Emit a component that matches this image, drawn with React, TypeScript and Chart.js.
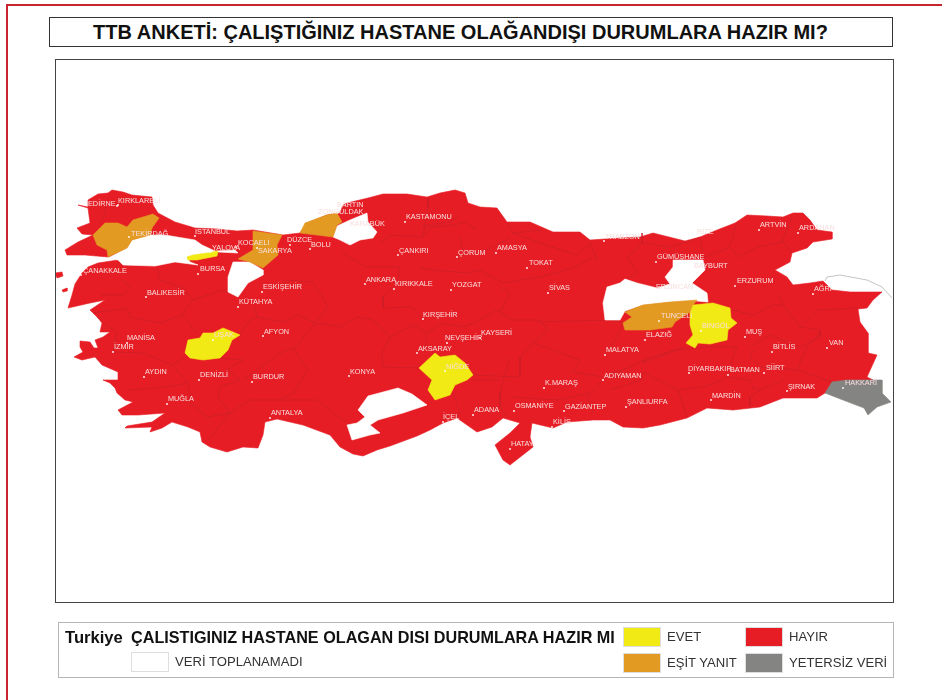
import React, { useEffect, useRef } from "react";
import { Chart, registerables } from "chart.js";

Chart.register(...registerables);

const titleText = "TTB ANKETİ: ÇALIŞTIĞINIZ HASTANE OLAĞANDIŞI DURUMLARA HAZIR MI?";
const legendCountry = "Turkiye";
const legendTitle = "ÇALISTIGINIZ HASTANE OLAGAN DISI DURUMLARA HAZIR MI";

const YES = "#f2ea14";
const TIE = "#e39a22";
const NO = "#e71d25";
const LOW = "#848482";
const NONE = "#ffffff";
const BORDER = "#c91f28";

type P = [number, number];

const mainland: P[] = [
  [78, 205], [88, 207], [88, 200], [98, 194], [108, 193], [112, 190], [123, 192], [132, 195], [152, 197], [153, 205],
  [158, 213], [175, 222], [195, 228], [217, 229], [237, 231], [253, 230], [283, 235], [300, 233], [307, 223], [327, 215], [340, 213], [343, 205],
  [347, 203], [368, 198], [383, 194], [407, 194], [427, 197], [440, 193], [455, 190], [465, 193], [468, 203], [480, 207],
  [497, 208], [507, 222], [530, 222], [553, 232], [580, 232], [590, 240], [620, 238], [640, 237], [653, 233], [685, 241],
  [700, 237], [717, 230], [735, 223], [747, 215], [767, 216], [783, 217], [793, 213], [803, 213], [810, 220], [817, 230],
  [832, 232], [832, 239], [813, 242], [807, 248], [792, 253], [790, 262], [775, 270], [787, 277], [793, 285], [810, 283],
  [823, 281], [832, 290], [850, 292], [882, 292], [873, 300], [867, 308], [858, 309], [860, 322], [868, 333], [868, 353],
  [877, 355], [867, 377], [873, 380], [840, 390], [825, 393], [817, 398], [783, 398], [760, 407], [733, 410], [707, 408],
  [687, 418], [660, 425], [643, 428], [623, 427], [610, 420], [593, 420], [567, 422], [553, 428], [532, 423], [530, 437],
  [533, 447], [510, 465], [503, 460], [495, 445], [510, 433], [520, 423], [503, 418], [492, 427], [477, 432], [457, 418],
  [443, 423], [430, 430], [417, 436], [390, 446], [377, 450], [363, 456], [353, 454], [340, 447], [330, 435], [303, 425], [277, 419], [265, 422],
  [263, 435], [258, 448], [243, 447], [227, 452], [210, 447], [202, 442], [200, 432], [188, 427], [172, 422], [162, 428], [150, 432],
  [152, 427], [125, 428], [127, 426], [152, 422], [165, 413], [138, 415], [122, 415], [118, 410], [133, 402], [125, 400],
  [117, 393], [115, 388], [110, 383], [103, 380], [118, 380], [118, 372], [102, 365], [95, 357], [82, 360], [74, 357],
  [83, 352], [80, 347], [80, 341], [90, 342], [94, 348], [98, 348], [113, 350], [98, 348], [95, 340], [103, 337], [110, 332], [100, 332],
  [102, 323], [98, 318], [90, 310], [105, 300], [90, 303], [68, 308], [72, 295], [75, 284], [82, 273], [88, 267], [98, 263],
  [118, 260], [108, 257], [85, 255], [67, 255], [65, 250], [78, 242], [93, 235], [82, 234], [77, 228], [90, 223], [88, 208],
];
const islandGokceada: P[] = [[55, 273], [62, 272], [63, 276], [57, 278]];
const islandBozcaada: P[] = [[62, 290], [67, 288], [67, 291], [63, 292]];
const islandMarmara: P[] = [[132, 254], [140, 253], [140, 257], [133, 257]];
const islandAvsa: P[] = [[129, 259], [134, 259], [134, 262], [129, 262]];
const islandPasha: P[] = [[140, 260], [152, 262], [155, 265], [145, 266], [140, 263]];

const marmara: P[] = [
  [108, 258], [127, 248], [132, 240], [150, 235], [165, 235], [195, 240], [202, 245], [215, 251], [235, 250], [238, 253],
  [218, 252], [187, 257], [190, 262], [198, 265], [175, 262], [155, 266], [123, 265], [118, 260],
];
const bilecik: P[] = [[233, 262], [250, 262], [263, 270], [263, 275], [248, 283], [238, 297], [228, 292], [228, 277]];
const karabuk: P[] = [[337, 226], [350, 220], [367, 213], [368, 222], [377, 232], [373, 238], [360, 240], [350, 245], [340, 240], [333, 237]];
const karaman: P[] = [
  [347, 425], [352, 440], [370, 435], [380, 433], [370, 425], [378, 420], [403, 413], [427, 405], [412, 394], [398, 388],
  [383, 392], [368, 396], [358, 410], [365, 417], [357, 423],
];
const erzincan: P[] = [
  [605, 320], [603, 303], [607, 287], [620, 283], [625, 279], [637, 283], [657, 288], [670, 284], [665, 277], [673, 267],
  [673, 260], [703, 260], [705, 270], [692, 283], [707, 293], [708, 302], [697, 301], [670, 302], [643, 305], [625, 311], [620, 320],
];

const uşak: P[] = [
  [185, 353], [188, 340], [200, 338], [203, 333], [213, 333], [223, 328], [233, 332], [240, 335], [232, 340], [228, 350],
  [220, 358], [203, 360], [190, 358],
];
const niğde: P[] = [
  [419, 368], [435, 353], [440, 357], [455, 355], [465, 363], [473, 375], [467, 380], [455, 385], [450, 395], [435, 400],
  [428, 390], [432, 380],
];
const bingöl: P[] = [
  [693, 305], [713, 303], [730, 308], [731, 318], [737, 323], [728, 330], [727, 340], [710, 344], [698, 343], [695, 348],
  [686, 343], [693, 335], [690, 325], [690, 313],
];
const yalova: P[] = [[187, 257], [193, 255], [207, 253], [218, 251], [217, 256], [197, 260], [188, 260]];
const tekirdağ: P[] = [
  [93, 235], [105, 223], [118, 223], [127, 227], [133, 220], [153, 214], [159, 218], [152, 228], [150, 235], [132, 240],
  [127, 248], [108, 257], [107, 250], [97, 245],
];
const sakarya: P[] = [[253, 231], [282, 235], [277, 245], [278, 255], [263, 268], [250, 262], [238, 259], [253, 250]];
const zonguldak: P[] = [[300, 233], [305, 223], [327, 215], [337, 213], [342, 222], [337, 225], [333, 237], [317, 235]];
const tunceli: P[] = [
  [625, 312], [643, 305], [670, 302], [697, 300], [693, 305], [690, 312], [675, 322], [672, 327], [650, 330], [625, 330],
  [623, 323], [632, 317],
];
const hakkari: P[] = [
  [832, 382], [847, 380], [882, 380], [882, 393], [891, 402], [877, 407], [868, 415], [864, 408], [843, 400], [825, 393],
];
const karsLine: P[] = [[825, 281], [827, 277], [840, 275], [867, 280], [882, 287], [892, 298]];

const provinceBorders: P[][] = [
  [[108, 197], [105, 213], [100, 223]],
  [[123, 280], [130, 287], [123, 295], [100, 295]],
  [[157, 268], [160, 280], [183, 288], [193, 300]],
  [[93, 313], [127, 308], [130, 317], [160, 323], [182, 315]],
  [[182, 315], [193, 300], [223, 290], [240, 297]],
  [[182, 315], [197, 333]],
  [[240, 335], [250, 320], [257, 317], [283, 322], [298, 315]],
  [[255, 307], [257, 317]],
  [[283, 280], [313, 282], [328, 307], [315, 323], [298, 315]],
  [[113, 352], [117, 333], [97, 317]],
  [[113, 352], [143, 353], [172, 365], [185, 357]],
  [[172, 365], [183, 377], [188, 383], [167, 387], [127, 390]],
  [[220, 358], [243, 360], [227, 370], [240, 380], [220, 387], [218, 397], [230, 413], [208, 440]],
  [[188, 383], [190, 403], [207, 417], [230, 413]],
  [[243, 380], [280, 353], [293, 348], [308, 370], [293, 393], [280, 400], [250, 400], [230, 413]],
  [[293, 350], [314, 325], [320, 323], [340, 327], [357, 317], [373, 320], [390, 337]],
  [[280, 400], [317, 400], [347, 423]],
  [[390, 337], [382, 353], [383, 367], [420, 368]],
  [[390, 337], [413, 325], [427, 333], [443, 323]],
  [[427, 333], [425, 347], [435, 353]],
  [[443, 323], [463, 327], [473, 323]],
  [[473, 323], [497, 310], [513, 320], [540, 320], [548, 330], [533, 343], [520, 357], [520, 377], [473, 375]],
  [[340, 252], [367, 267], [383, 267], [400, 267], [398, 283], [383, 297], [383, 308], [413, 307], [423, 320]],
  [[380, 243], [390, 235], [423, 237], [425, 225], [450, 222], [460, 215]],
  [[428, 198], [428, 207], [423, 230]],
  [[423, 237], [430, 227], [455, 225], [465, 222], [477, 230]],
  [[420, 268], [433, 270], [467, 273], [480, 270]],
  [[460, 237], [463, 252], [480, 253], [510, 238]],
  [[480, 270], [503, 283], [540, 277], [573, 268], [593, 258]],
  [[507, 223], [513, 233], [543, 230]],
  [[513, 233], [540, 243], [577, 255], [590, 243], [597, 260]],
  [[500, 313], [510, 293], [500, 287]],
  [[537, 322], [607, 320]],
  [[533, 343], [580, 360], [573, 372], [603, 377], [620, 377]],
  [[510, 357], [500, 393], [500, 407], [507, 417]],
  [[513, 397], [557, 400], [590, 393], [603, 380]],
  [[453, 393], [460, 413], [457, 418]],
  [[473, 380], [500, 380]],
  [[593, 413], [587, 393]],
  [[642, 233], [642, 243], [627, 258], [638, 272], [625, 280]],
  [[642, 243], [670, 247], [693, 240], [700, 237], [703, 253]],
  [[703, 258], [730, 247], [738, 257], [757, 247], [783, 242], [792, 253]],
  [[737, 223], [730, 245]],
  [[792, 217], [782, 242]],
  [[778, 293], [783, 305], [773, 305], [753, 315], [732, 310]],
  [[783, 305], [800, 327], [820, 330], [820, 337], [800, 347], [770, 335], [750, 347]],
  [[800, 327], [817, 310], [858, 308]],
  [[820, 333], [807, 347], [797, 370], [832, 382]],
  [[642, 363], [677, 350], [707, 347], [737, 347], [732, 360], [730, 373], [723, 380], [703, 387], [678, 390]],
  [[642, 363], [645, 360], [623, 370], [610, 373]],
  [[753, 350], [750, 357], [760, 367], [797, 370]],
  [[727, 377], [750, 380], [753, 388], [760, 390], [750, 397], [750, 407]],
  [[760, 390], [783, 380]],
  [[678, 390], [687, 417]],
  [[610, 390], [642, 380], [643, 372], [678, 390]],
  [[685, 347], [643, 360]],
  [[610, 320], [623, 323], [617, 337], [610, 347]],
];

const redRegions: P[][] = [mainland, islandGokceada, islandBozcaada, islandMarmara, islandAvsa, islandPasha];
const whiteRegions: P[][] = [marmara, bilecik, karabuk, karaman, erzincan];
const yellowRegions: P[][] = [uşak, niğde, bingöl, yalova];
const orangeRegions: P[][] = [tekirdağ, sakarya, zonguldak, tunceli];
const greyRegions: P[][] = [hakkari];

const cityNames = [
  "EDİRNE", "KIRKLARELİ", "TEKİRDAĞ", "İSTANBUL", "YALOVA", "KOCAELİ", "SAKARYA", "DÜZCE", "BOLU", "ZONGULDAK", "BARTIN",
  "KARABÜK", "KASTAMONU", "ÇANKIRI", "ÇORUM", "AMASYA", "TOKAT", "SİVAS", "ANKARA", "KIRIKKALE", "YOZGAT", "KIRŞEHİR",
  "NEVŞEHİR", "KAYSERİ", "AKSARAY", "NİĞDE", "KONYA", "K.MARAŞ", "MALATYA", "ADIYAMAN", "OSMANİYE", "GAZİANTEP", "KİLİS",
  "ADANA", "İÇEL", "HATAY", "ÇANAKKALE", "BURSA", "BALIKESİR", "ESKİŞEHİR", "KÜTAHYA", "AFYON", "UŞAK", "MANİSA", "İZMİR",
  "AYDIN", "DENİZLİ", "BURDUR", "MUĞLA", "ANTALYA", "ARTVİN", "ARDAHAN", "GÜMÜŞHANE", "BAYBURT", "ERZURUM", "AĞRI",
  "TUNCELİ", "BİNGÖL", "ELAZIĞ", "MUŞ", "BİTLİS", "VAN", "SİİRT", "BATMAN", "DİYARBAKIR", "ŞIRNAK", "HAKKARİ", "MARDİN",
  "ŞANLIURFA", "TRABZON", "RİZE", "ERZİNCAN",
];
const cityLabelX = [
  88, 118, 131, 195, 212, 238, 258, 287, 311, 318, 337, 350, 406, 399, 458, 497, 529, 549, 366, 395, 452, 423, 445, 481,
  418, 446, 350, 545, 606, 604, 515, 565, 553, 474, 443, 511, 83, 200, 147, 263, 239, 264, 214, 127, 114, 145, 200, 253,
  168, 271, 760, 799, 657, 694, 737, 814, 661, 702, 646, 746, 773, 829, 766, 730, 688, 788, 845, 712, 627, 605, 697, 656,
];
const cityLabelY = [
  204, 201, 234, 232, 248, 243, 251, 240, 245, 212, 205, 224, 217, 251, 253, 248, 263, 288, 280, 284, 285, 315, 338, 333,
  349, 367, 372, 383, 350, 376, 406, 407, 422, 410, 417, 444, 271, 269, 293, 287, 302, 332, 335, 338, 347, 372, 375, 377,
  399, 413, 225, 228, 257, 266, 281, 289, 316, 326, 335, 332, 347, 343, 368, 370, 369, 387, 383, 396, 402, 237, 232, 287,
];
const cityDotX = [
  117, 118, 129, 195, 210, 236, 257, 290, 310, 320, 340, 352, 405, 398, 457, 496, 527, 548, 365, 394, 451, 423, 447, 480,
  417, 445, 349, 544, 605, 603, 514, 564, 552, 473, 443, 510, 81, 198, 146, 262, 238, 263, 213, 127, 113, 144, 199, 252,
  167, 270, 759, 798, 656, 692, 735, 813, 659, 701, 645, 745, 772, 827, 764, 728, 689, 787, 843, 711, 626, 604, 696, 654,
];
const cityDotY = [
  206, 205, 237, 236, 252, 247, 248, 245, 249, 216, 209, 228, 222, 255, 257, 253, 268, 293, 284, 289, 290, 319, 343, 338,
  353, 371, 376, 388, 355, 380, 411, 411, 427, 415, 422, 449, 275, 274, 297, 292, 307, 336, 340, 343, 352, 377, 380, 382,
  404, 418, 230, 233, 262, 270, 286, 294, 321, 331, 340, 337, 352, 348, 373, 375, 373, 391, 388, 400, 407, 241, 236, 291,
];

const legendItems = [
  { label: "EVET", color: YES, left: 623, top: 627 },
  { label: "HAYIR", color: NO, left: 745, top: 627 },
  { label: "EŞİT YANIT", color: TIE, left: 623, top: 653 },
  { label: "YETERSİZ VERİ", color: LOW, left: 745, top: 653 },
  { label: "VERİ TOPLANAMADI", color: NONE, left: 131, top: 652 },
];

function toPoints(poly: P[]) {
  return poly.map(([x, y]) => ({ x, y }));
}

function regionSets(list: P[][], color: string, order: number) {
  return list.map((poly) => ({
    data: toPoints([...poly, poly[0]]),
    borderColor: color,
    backgroundColor: color,
    borderWidth: 0.6,
    fill: "shape" as const,
    pointRadius: 0,
    tension: 0,
    order,
  }));
}

function lineSets(list: P[][], color: string, width: number, order: number) {
  return list.map((poly) => ({
    data: toPoints(poly),
    borderColor: color,
    borderWidth: width,
    fill: false,
    pointRadius: 0,
    tension: 0,
    order,
  }));
}

const cityLabelPlugin = {
  id: "cityLabels",
  afterDatasetsDraw(chart: any) {
    const { ctx, scales } = chart;
    ctx.save();
    ctx.font = '7.3px "Liberation Sans", Arial, sans-serif';
    ctx.fillStyle = "#f8dede";
    ctx.textBaseline = "middle";
    ctx.textAlign = "left";
    cityNames.forEach((name, i) => {
      ctx.fillText(name, scales.x.getPixelForValue(cityLabelX[i]), scales.y.getPixelForValue(cityLabelY[i]));
    });
    ctx.restore();
  },
};

const font = '"Liberation Sans", Arial, sans-serif';

function Swatch({ label, color, left, top }: { label: string; color: string; left: number; top: number }) {
  return (
    <>
      <div
        style={{
          position: "absolute",
          left,
          top,
          width: 38,
          height: 20,
          boxSizing: "border-box",
          background: color,
          border: "1px solid #dedede",
        }}
      />
      <div
        style={{
          position: "absolute",
          left: left + 44,
          top,
          height: 20,
          lineHeight: "20px",
          fontSize: 13.1,
          color: "#333",
          whiteSpace: "nowrap",
        }}
      >
        {label}
      </div>
    </>
  );
}

export default function App() {
  const ref = useRef<HTMLCanvasElement>(null);

  useEffect(() => {
    document.body.style.margin = "0";
    const chart = new Chart(ref.current!, {
      type: "scatter",
      data: {
        datasets: [
          ...regionSets(redRegions, NO, 6),
          ...lineSets(provinceBorders, BORDER, 0.7, 5),
          ...regionSets(whiteRegions, NONE, 4),
          ...regionSets(orangeRegions, TIE, 3),
          ...regionSets(yellowRegions, YES, 2),
          ...regionSets(greyRegions, LOW, 2),
          ...lineSets([karsLine], "#b5b5b5", 0.8, 2),
          {
            data: cityDotX.map((x, i) => ({ x, y: cityDotY[i] })),
            showLine: false,
            pointRadius: 0.9,
            pointBorderWidth: 0,
            pointBackgroundColor: "#ffffff",
            order: 1,
          },
        ].map((d: any) => ({ showLine: true, ...d })),
      },
      options: {
        responsive: false,
        animation: false,
        layout: { padding: { left: 55, right: 49, top: 60, bottom: 98 } },
        plugins: { legend: { display: false }, tooltip: { enabled: false }, title: { display: false } },
        scales: {
          x: { type: "linear", min: 55, max: 893, display: false },
          y: { type: "linear", min: 60, max: 602, reverse: true, display: false },
        },
      },
      plugins: [cityLabelPlugin],
    } as any);
    return () => chart.destroy();
  }, []);

  return (
    <div style={{ position: "relative", width: 942, height: 700, overflow: "hidden", background: "#fff", fontFamily: font }}>
      <div style={{ position: "absolute", left: 6, top: 4, right: 0, height: 2, background: "#c9252e" }} />
      <div style={{ position: "absolute", left: 6, top: 4, bottom: 0, width: 2, background: "#c9252e" }} />
      <div
        style={{
          position: "absolute",
          left: 49,
          top: 17,
          width: 844,
          height: 30,
          boxSizing: "border-box",
          border: "1px solid #333",
          paddingRight: 21,
          textAlign: "center",
          lineHeight: "28px",
          fontSize: 20,
          fontWeight: 700,
          color: "#111",
          whiteSpace: "nowrap",
        }}
      >
        {titleText}
      </div>
      <canvas ref={ref} width={942} height={700} style={{ position: "absolute", left: 0, top: 0, display: "block" }} />
      <div
        style={{
          position: "absolute",
          left: 55,
          top: 59,
          width: 839,
          height: 544,
          boxSizing: "border-box",
          border: "1px solid #444",
          pointerEvents: "none",
        }}
      />
      <div
        style={{
          position: "absolute",
          left: 58,
          top: 622,
          width: 836,
          height: 56,
          boxSizing: "border-box",
          border: "1px solid #b5b5b5",
        }}
      />
      <div style={{ position: "absolute", left: 65, top: 628, height: 20, lineHeight: "20px", fontSize: 16.6, fontWeight: 700, color: "#111" }}>
        {legendCountry}
      </div>
      <div style={{ position: "absolute", left: 131, top: 627, height: 20, lineHeight: "20px", fontSize: 16.2, fontWeight: 700, color: "#111", whiteSpace: "nowrap" }}>
        {legendTitle}
      </div>
      {legendItems.map((it) => (
        <Swatch key={it.label} {...it} />
      ))}
    </div>
  );
}
